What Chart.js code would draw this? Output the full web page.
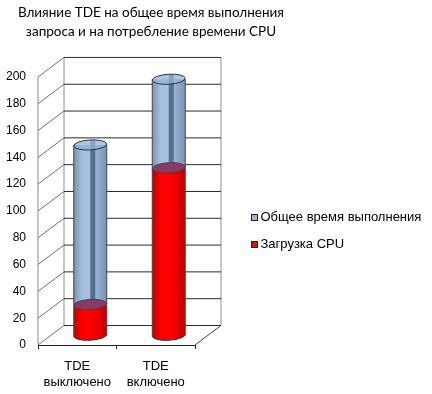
<!DOCTYPE html>
<html>
<head>
<meta charset="utf-8">
<style>
    html, body { margin: 0; padding: 0; background: #fff; }
    canvas { display: block; }
</style>
<script src="https://cdn.jsdelivr.net/npm/chart.js@4"></script>
</head>
<body>
<canvas id="tdeChart" width="432" height="394"></canvas>
<script>
const categories = [["TDE", "выключено"], ["TDE", "включено"]];
const totalTime = [142, 191];
const cpuLoad = [23, 125];
const seriesNames = ["Общее время выполнения", "Загрузка CPU"];
const titleLines = ["Влияние TDE на общее время выполнения", "запроса и на потребление времени CPU"];
const blueStops = ["#7b93b3", "#a6bfdf", "#a9c2e2", "#92abcc", "#7b93b3"];
const redStops = ["#c00000", "#ff0000", "#ff0000", "#e80000", "#b80000"];
const legendColors = ["#9db8da", "#ff0000"];

// depth of the fake 3d box
const depthX = 26, depthY = -19.5;
const barShare = 0.42;
const capRadius = 5;
const capTilt = -0.06;

function sideGradient(ctx, stops, plain) {
    const chart = ctx.chart;
    if (ctx.type !== "data") return plain;
    const x = chart.scales.x.getPixelForValue(ctx.dataIndex);
    // scales have no size yet on the first pass
    if (!isFinite(x) || !chart.scales.x.width) return plain;
    const half = chart.scales.x.width / categories.length * barShare / 2;
    const g = chart.ctx.createLinearGradient(x - half, 0, x + half, 0);
    stops.forEach((c, i) => g.addColorStop(i / (stops.length - 1), c));
    return g;
}

// legend box with a small gap to the text, the library's own gap is too wide
function swatch(color) {
    const cv = document.createElement("canvas");
    cv.width = 11;
    cv.height = 7;
    const c = cv.getContext("2d");
    c.fillStyle = "#222";
    c.fillRect(4, 0, 7, 7);
    c.fillStyle = color;
    c.fillRect(5, 1, 5, 5);
    return cv;
}

function line(c, x1, y1, x2, y2) {
    c.beginPath();
    c.moveTo(x1, y1);
    c.lineTo(x2, y2);
    c.stroke();
}

const box3d = {
    id: "box3d",
    beforeDraw(chart) {
        // title and legend sit apart from the plot
        chart.titleBlock.left = 0;
        chart.titleBlock.right = 302;
        chart.legend.left = 237;
        chart.legend.top = 197;
        chart.legend.right = 432;
        chart.legend.bottom = 394;
    },
    beforeDatasetsDraw(chart) {
        const c = chart.ctx, y = chart.scales.y, a = chart.chartArea;
        c.save();
        c.lineWidth = 1;
        c.strokeStyle = "#8c8c8c";
        line(c, a.left, a.top, a.left, a.bottom);
        line(c, a.left + depthX, a.top + depthY, a.left + depthX, a.bottom + depthY);
        line(c, a.right + depthX, a.top + depthY, a.right + depthX, a.bottom + depthY);
        y.ticks.forEach(t => {
            const py = y.getPixelForValue(t.value);
            c.strokeStyle = "#707070";
            line(c, a.left, py, a.left + depthX, py + depthY);
            c.strokeStyle = "#2b2b2b";
            line(c, a.left + depthX, py + depthY, a.right + depthX, py + depthY);
        });
        c.strokeStyle = "#404040";
        line(c, a.right, a.bottom, a.right + depthX, a.bottom + depthY);
        c.restore();
    },
    beforeDatasetDraw(chart, args) {
        const c = chart.ctx;
        c.save();
        c.translate(depthX / 2, depthY / 2);
        if (args.index !== 1) return;
        chart.getDatasetMeta(1).data.forEach(el => {
            c.beginPath();
            c.ellipse(el.x, el.base, el.width / 2, capRadius, capTilt, 0, Math.PI * 2);
            c.fillStyle = el.options.backgroundColor;
            c.fill();
            c.strokeStyle = "#333";
            c.stroke();
        });
    },
    afterDatasetDraw(chart, args) {
        const c = chart.ctx;
        chart.getDatasetMeta(args.index).data.forEach(el => {
            const rx = el.width / 2;
            if (args.index === 0) {
                // dark stripe seen through the glass
                c.fillStyle = "rgba(62,92,125,0.8)";
                c.fillRect(el.x, el.y - capRadius, 5, el.base - el.y + capRadius);
                // where the upper part meets the red one
                c.beginPath();
                c.ellipse(el.x, el.base, rx, capRadius, capTilt, 0, Math.PI * 2);
                c.fillStyle = "#8a3a66";
                c.fill();
                c.strokeStyle = "#444";
                c.stroke();
                c.beginPath();
                c.ellipse(el.x, el.y, rx, capRadius, capTilt, 0, Math.PI * 2);
                c.fillStyle = "rgba(150,178,215,0.75)";
                c.fill();
                c.strokeStyle = "#333";
                c.stroke();
            }
            c.strokeStyle = "#444";
            line(c, el.x - rx, el.y, el.x - rx, el.base);
            line(c, el.x + rx, el.y, el.x + rx, el.base);
        });
        c.restore();
    }
};

new Chart(document.getElementById("tdeChart"), {
    type: "bar",
    data: {
        labels: categories,
        datasets: [
            {
                label: seriesNames[0],
                data: totalTime.map((v, i) => [cpuLoad[i], v]),
                backgroundColor: ctx => sideGradient(ctx, blueStops, legendColors[0]),
                borderWidth: 0
            },
            {
                label: seriesNames[1],
                data: cpuLoad,
                backgroundColor: ctx => sideGradient(ctx, redStops, legendColors[1]),
                borderWidth: 0
            }
        ]
    },
    options: {
        responsive: false,
        animation: false,
        layout: { padding: { left: 0, right: 172, top: 0, bottom: 5 } },
        datasets: { bar: { grouped: false, categoryPercentage: 1, barPercentage: barShare, clip: false } },
        scales: {
            x: {
                afterFit: s => { s.height = 44; },
                grid: { drawOnChartArea: false, tickLength: 4, color: "#222" },
                border: { color: "#222" },
                ticks: { color: "#000", font: { family: "Liberation Sans", size: 13 }, padding: 10, maxRotation: 0 }
            },
            y: {
                min: 0,
                max: 200,
                grid: { display: false },
                border: { display: false },
                afterFit: s => { s.width = 38; },
                ticks: { stepSize: 20, autoSkip: false, color: "#000", font: { family: "Liberation Sans", size: 12 }, padding: 4 }
            }
        },
        plugins: {
            title: {
                display: true,
                text: titleLines,
                color: "#000",
                font: { family: "Lato", size: 13.5, weight: "normal", lineHeight: 1.35 },
                padding: { top: 4, bottom: 36.5 }
            },
            legend: {
                position: "right",
                align: "start",
                labels: {
                    font: { family: "Liberation Sans", size: 13 },
                    usePointStyle: true,
                    pointStyleWidth: 3,
                    padding: 14,
                    generateLabels: chart => chart.data.datasets.map((ds, i) => ({
                        text: ds.label,
                        fontColor: "#000",
                        pointStyle: swatch(legendColors[i]),
                        datasetIndex: i
                    }))
                }
            },
            tooltip: { enabled: false }
        }
    },
    plugins: [box3d]
});
</script>
</body>
</html>
